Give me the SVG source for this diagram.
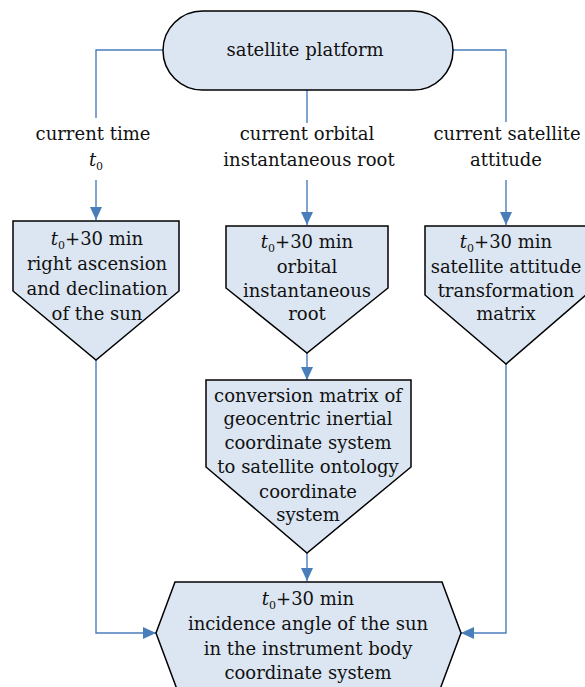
<svg xmlns="http://www.w3.org/2000/svg" width="585" height="687" viewBox="0 0 585 687">
<style>
.node{fill:#dce6f2;stroke:#000;stroke-width:1.5;stroke-linejoin:miter}
.conn{fill:none;stroke:#4a7ebb;stroke-width:1.4}
text{font-family:"DejaVu Serif","Liberation Serif",serif;font-size:18px;fill:#111;text-anchor:middle}
.it{font-style:italic}
.sub{font-size:11px}
</style>
<defs>
<marker id="ah" viewBox="0 0 13 12" refX="13" refY="6" markerWidth="13" markerHeight="12" markerUnits="userSpaceOnUse" orient="auto">
<path d="M0,0 L13,6 L0,12 z" fill="#4a7ebb"/>
</marker>
</defs>
<g id="connectors">
<path class="conn" d="M163,50 H96 V118"/>
<path class="conn" d="M96,180 V220" marker-end="url(#ah)"/>
<path class="conn" d="M307,90 V123"/>
<path class="conn" d="M307,180 V225" marker-end="url(#ah)"/>
<path class="conn" d="M453,50 H506 V122"/>
<path class="conn" d="M506,180 V225" marker-end="url(#ah)"/>
<path class="conn" d="M307,353 V380" marker-end="url(#ah)"/>
<path class="conn" d="M307,553 V581" marker-end="url(#ah)"/>
<path class="conn" d="M96,360 V633 H156" marker-end="url(#ah)"/>
<path class="conn" d="M506,364 V633 H461" marker-end="url(#ah)"/>
</g>
<g id="labels">
<text x="93" y="140">current time</text>
<text x="96" y="166"><tspan class="it">t</tspan><tspan class="sub" dy="4">0</tspan></text>
<text x="307" y="140">current orbital</text>
<text x="309" y="166">instantaneous root</text>
<text x="507" y="140">current satellite</text>
<text x="506" y="166">attitude</text>
</g>
<g id="platform">
<rect class="node" x="163" y="11" width="290" height="79" rx="39.5" ry="39.5"/>
<text x="305" y="56">satellite platform</text>
</g>
<g id="sun-position">
<polygon class="node" points="13,221 179,221 179,291 96,360 13,291"/>
<text x="97" y="245"><tspan class="it">t</tspan><tspan class="sub" dy="4">0</tspan><tspan dy="-4">+30 min</tspan></text>
<text x="97" y="270">right ascension</text>
<text x="97" y="295">and declination</text>
<text x="97" y="320">of the sun</text>
</g>
<g id="orbital-root">
<polygon class="node" points="226,226 388,226 388,288 307,353 226,288"/>
<text x="307" y="248"><tspan class="it">t</tspan><tspan class="sub" dy="4">0</tspan><tspan dy="-4">+30 min</tspan></text>
<text x="307" y="273">orbital</text>
<text x="307" y="297">instantaneous</text>
<text x="307" y="320">root</text>
</g>
<g id="attitude-matrix">
<polygon class="node" points="425,226 586,226 586,295 506,364 425,295"/>
<text x="506" y="248"><tspan class="it">t</tspan><tspan class="sub" dy="4">0</tspan><tspan dy="-4">+30 min</tspan></text>
<text x="506" y="273">satellite attitude</text>
<text x="506" y="297">transformation</text>
<text x="506" y="320">matrix</text>
</g>
<g id="conversion-matrix">
<polygon class="node" points="206,380 411,380 411,467 307,553 206,467"/>
<text x="308" y="402">conversion matrix of</text>
<text x="308" y="425">geocentric inertial</text>
<text x="308" y="449">coordinate system</text>
<text x="308" y="473">to satellite ontology</text>
<text x="308" y="498">coordinate</text>
<text x="308" y="521">system</text>
</g>
<g id="incidence-angle">
<polygon class="node" points="175,582 442,582 461,633 439,692 178,692 156,633"/>
<text x="308" y="605"><tspan class="it">t</tspan><tspan class="sub" dy="4">0</tspan><tspan dy="-4">+30 min</tspan></text>
<text x="308" y="630">incidence angle of the sun</text>
<text x="308" y="655">in the instrument body</text>
<text x="308" y="679">coordinate system</text>
</g>
</svg>
